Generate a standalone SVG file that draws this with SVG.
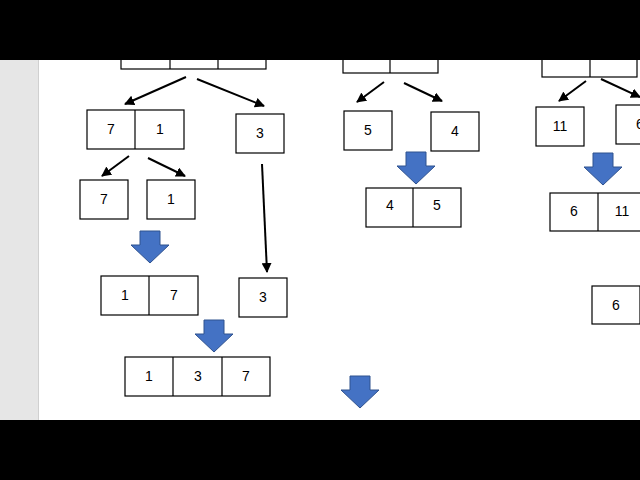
<svg xmlns="http://www.w3.org/2000/svg" width="640" height="480" viewBox="0 0 640 480">
<defs>
<style>
.b{fill:#fff;stroke:#000;stroke-width:1.2}
.d{stroke:#000;stroke-width:1.2}
.t{font-family:"Liberation Sans",Arial,sans-serif;font-size:14px;text-anchor:middle;fill:#000}
.c{stroke:#000;stroke-width:2;fill:none;marker-end:url(#ah)}
.ba{fill:#4472C4;stroke:#2F528F;stroke-width:1}
</style>
<marker id="ah" viewBox="0 0 10 10" refX="9" refY="5" markerWidth="5" markerHeight="5" orient="auto"><path d="M0,0L10,5L0,10z" fill="#000"/></marker>
<path id="bar" d="M-10,0H10V14H19L0,32L-19,14H-10Z"/>
</defs>
<rect width="640" height="480" fill="#fff"/>
<rect x="0" y="60" width="38" height="360" fill="#e6e6e6"/>
<line x1="38.5" y1="60" x2="38.5" y2="420" stroke="#d0d0d0"/>
<g id="top1"><rect class="b" x="121" y="50" width="145" height="19"/><line class="d" x1="170" y1="50" x2="170" y2="69"/><line class="d" x1="218" y1="50" x2="218" y2="69"/></g>
<g id="top2"><rect class="b" x="343" y="50" width="95" height="23"/><line class="d" x1="390" y1="50" x2="390" y2="73"/></g>
<g id="top3"><rect class="b" x="542" y="50" width="95" height="27"/><line class="d" x1="590" y1="50" x2="590" y2="77"/></g>
<g id="connectors">
<line class="c" x1="186" y1="77" x2="125" y2="104"/>
<line class="c" x1="197" y1="79" x2="264" y2="106"/>
<line class="c" x1="129" y1="156" x2="102" y2="176"/>
<line class="c" x1="148" y1="158" x2="185" y2="176"/>
<line class="c" x1="262" y1="164" x2="267" y2="272"/>
<line class="c" x1="384" y1="82" x2="357" y2="102"/>
<line class="c" x1="404" y1="83" x2="442" y2="101"/>
<line class="c" x1="586" y1="81" x2="559" y2="101"/>
<line class="c" x1="601" y1="79" x2="640" y2="97"/>
<use href="#bar" class="ba" x="150" y="231"/>
<use href="#bar" class="ba" x="214" y="320"/>
<use href="#bar" class="ba" x="360" y="376"/>
<use href="#bar" class="ba" x="416" y="152"/>
<use href="#bar" class="ba" x="603" y="153"/>
</g>
<g id="n71"><rect class="b" x="87" y="110" width="97" height="39"/><line class="d" x1="135" y1="110" x2="135" y2="149"/><text class="t" x="111" y="134">7</text><text class="t" x="160" y="134">1</text></g>
<g id="n3a"><rect class="b" x="236" y="114" width="48" height="39"/><text class="t" x="260" y="138">3</text></g>
<g id="n7"><rect class="b" x="80" y="180" width="48" height="39"/><text class="t" x="104" y="204">7</text></g>
<g id="n1"><rect class="b" x="147" y="180" width="48" height="39"/><text class="t" x="171" y="204">1</text></g>
<g id="n17"><rect class="b" x="101" y="276" width="97" height="39"/><line class="d" x1="149" y1="276" x2="149" y2="315"/><text class="t" x="125" y="300">1</text><text class="t" x="174" y="300">7</text></g>
<g id="n3b"><rect class="b" x="239" y="278" width="48" height="39"/><text class="t" x="263" y="302">3</text></g>
<g id="n137"><rect class="b" x="125" y="357" width="145" height="39"/><line class="d" x1="173" y1="357" x2="173" y2="396"/><line class="d" x1="222" y1="357" x2="222" y2="396"/><text class="t" x="149" y="381">1</text><text class="t" x="198" y="381">3</text><text class="t" x="246" y="381">7</text></g>
<g id="n5"><rect class="b" x="344" y="111" width="48" height="39"/><text class="t" x="368" y="135">5</text></g>
<g id="n4"><rect class="b" x="431" y="112" width="48" height="39"/><text class="t" x="455" y="136">4</text></g>
<g id="n45"><rect class="b" x="366" y="188" width="95" height="39"/><line class="d" x1="413" y1="188" x2="413" y2="227"/><text class="t" x="390" y="210">4</text><text class="t" x="437" y="210">5</text></g>
<g id="n11"><rect class="b" x="536" y="107" width="48" height="39"/><text class="t" x="560" y="131">11</text></g>
<g id="n6a"><rect class="b" x="616" y="105" width="48" height="39"/><text class="t" x="640" y="129">6</text></g>
<g id="n611"><rect class="b" x="550" y="193" width="95" height="38"/><line class="d" x1="598" y1="193" x2="598" y2="231"/><text class="t" x="574" y="216">6</text><text class="t" x="622" y="216">11</text></g>
<g id="n6b"><rect class="b" x="592" y="286" width="48" height="38"/><text class="t" x="616" y="310">6</text></g>
<rect x="0" y="0" width="640" height="60" fill="#000"/>
<rect x="0" y="420" width="640" height="60" fill="#000"/>
</svg>
